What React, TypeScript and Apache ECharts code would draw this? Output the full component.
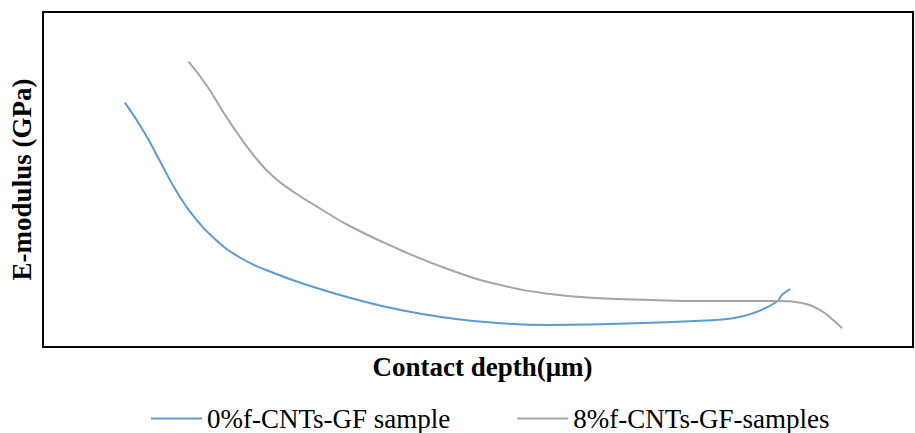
import React, { useEffect, useRef } from "react";
import * as echarts from "echarts";

const blueX = [9.41, 11.6, 13.55, 15.46, 17.34, 19.63, 22.73, 26.52, 31.11, 35.36, 41.1, 46.84, 52.58, 58.32, 64.06, 69.8, 75.55, 79.33, 82.05, 84.35, 84.93, 85.88];
const blueY = [72.93, 64.27, 54.93, 45.97, 38.9, 32.54, 26.57, 22.09, 17.91, 14.63, 11.04, 8.57, 7.07, 6.57, 6.78, 7.25, 7.85, 8.57, 10.54, 13.52, 15.52, 17.31];
const grayX = [16.73, 18.91, 20.78, 22.73, 24.65, 26.52, 28.82, 31.57, 35.36, 41.1, 46.84, 52.58, 58.32, 64.06, 69.8, 75.55, 81.29, 84.39, 87.37, 89.32, 90.82, 91.85];
const grayY = [85.16, 77.7, 69.85, 62.39, 55.82, 50.75, 46.27, 41.79, 35.97, 28.96, 22.99, 18.51, 15.82, 14.54, 14.03, 13.73, 13.73, 13.73, 13.04, 11.04, 8.06, 5.58];
const seriesNames = ["0%f-CNTs-GF sample", "8%f-CNTs-GF-samples"];
const xTitle = "Contact depth(μm)";
const yTitle = "E-modulus (GPa)";

const zip = (xs: number[], ys: number[]) => xs.map((x, i) => [x, ys[i]]);

export default function App() {
  const ref = useRef<HTMLDivElement>(null);
  useEffect(() => {
    if (!ref.current) return;
    const chart = echarts.init(ref.current, null, { renderer: "svg" });
    const font = "Liberation Serif";
    chart.setOption({
      animation: false,
      textStyle: { fontFamily: font },
      grid: { left: 42, right: 2, top: 12, bottom: 86, show: true, borderColor: "#000", borderWidth: 2, backgroundColor: "transparent" },
      legend: {
        top: 405,
        left: 151,
        padding: 0,
        itemWidth: 51,
        itemHeight: 14,
        itemGap: 67,
        icon: "path://M0,0 L51,0 L51,2 L0,2 Z",
        textStyle: { fontFamily: font, fontSize: 27, color: "#000" },
        data: seriesNames,
      },
      xAxis: {
        type: "value", min: 0, max: 100,
        name: xTitle, nameLocation: "middle", nameGap: 6,
        nameTextStyle: { fontFamily: font, fontSize: 27, fontWeight: "bold", color: "#000", padding: [0, 0, 0, 9] },
        axisLine: { show: false }, axisTick: { show: false }, axisLabel: { show: false }, splitLine: { show: false },
      },
      yAxis: {
        type: "value", min: 0, max: 100,
        name: yTitle, nameLocation: "middle", nameGap: 8,
        nameTextStyle: { fontFamily: font, fontSize: 27, fontWeight: "bold", color: "#000" },
        axisLine: { show: false }, axisTick: { show: false }, axisLabel: { show: false }, splitLine: { show: false },
      },
      series: [
        { name: seriesNames[0], type: "line", data: zip(blueX, blueY), smooth: 0.5, symbol: "none", lineStyle: { color: "#5B9BD5", width: 2 }, itemStyle: { color: "#5B9BD5" } },
        { name: seriesNames[1], type: "line", data: zip(grayX, grayY), smooth: 0.5, symbol: "none", lineStyle: { color: "#A5A5A5", width: 2 }, itemStyle: { color: "#A5A5A5" } },
      ],
    });
    return () => chart.dispose();
  }, []);
  return <div ref={ref} style={{ width: 915, height: 433, position: "absolute", left: 0, top: 0 }} />;
}
